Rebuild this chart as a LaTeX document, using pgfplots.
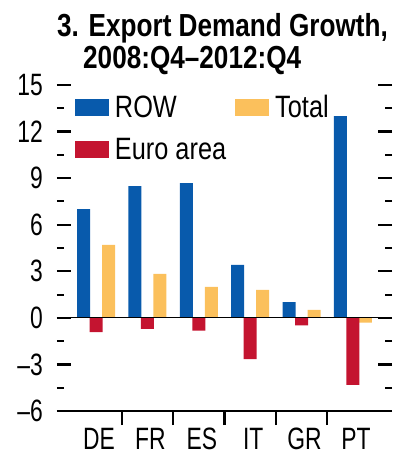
\documentclass[border=0pt]{standalone}
\usepackage{fontspec}
\setmainfont{Liberation Sans}[FakeStretch=0.74]
\newfontfamily\titlefont{Liberation Sans}[FakeStretch=0.82]
\newfontfamily\legfont{Liberation Sans}[FakeStretch=0.82]
\usepackage{pgfplots}
\pgfplotsset{compat=1.18}
\definecolor{rowblue}{RGB}{8,90,172}
\definecolor{eured}{RGB}{196,20,48}
\definecolor{totyel}{RGB}{251,192,92}
\pgfplotstableread{
x row total euro
0 7.0 4.7 -0.92
1 8.49 2.83 -0.71
2 8.68 1.99 -0.82
3 3.41 1.80 -2.66
4 1.01 0.51 -0.49
5 12.99 -0.30 -4.31
}\datatable
\begin{document}
\begin{tikzpicture}
\begin{axis}[
  scale only axis, width=335bp, height=326bp,
  xmin=-0.76, xmax=5.76, ymin=-6, ymax=15,
  clip=false,
  axis line style={draw=none},
  tick align=inside,
  major tick length=14bp, minor tick length=7.5bp,
  every major tick/.append style={line width=2.4bp, black},
  every minor tick/.append style={line width=2bp, black},
  xtick={0.5,1.5,2.5,3.5,4.5}, xticklabels={},
  xtick pos=bottom,
  extra x ticks={0,1,2,3,4,5},
  extra x tick labels={DE,FR,ES,IT,GR,PT},
  extra x tick style={tick style={draw=none}},
  xticklabel style={anchor=base, inner sep=0pt, yshift=-24bp, xshift=3bp},
  ytick={-6,-3,0,3,6,9,12,15},
  yticklabels={–6,–3,0,3,6,9,12,15},
  minor ytick={-4.5,-1.5,1.5,4.5,7.5,10.5,13.5},
  yticklabel style={anchor=east, inner sep=0pt, xshift=-14bp},
  tick label style={font=\fontsize{31}{31}\selectfont},
  ybar, bar width=13bp,
  legend columns=2,
  legend cell align=left,
  legend image code/.code={\fill[#1,draw=none] (0bp,-10bp) rectangle (34bp,7bp); \path (40bp,0bp);},
  legend style={draw=none, fill=none, inner sep=0pt, outer sep=0pt,
    at={(rel axis cs:0.0537,0.969)}, anchor=north west,
    font=\legfont\fontsize{31}{31}\selectfont,
    row sep=20bp,
    nodes={inner sep=0pt, text height=22bp, text depth=0pt},
    /tikz/every even column/.append style={column sep=9bp}},
]
\addplot[fill=rowblue, draw=none, bar shift=-12.5bp] table[x=x,y=row]{\datatable};
\addlegendentry{ROW}
\addplot[fill=totyel, draw=none, bar shift=12.5bp] table[x=x,y=total]{\datatable};
\addlegendentry{Total}
\addplot[fill=eured, draw=none, bar shift=0bp] table[x=x,y=euro]{\datatable};
\addlegendentry{Euro area}
\draw[line width=0.9bp, black] (axis cs:-0.76,0) -- (axis cs:5.76,0);
\draw[line width=2.6bp, black] (rel axis cs:0,0) -- (rel axis cs:1,0);
\coordinate (SW) at (rel axis cs:0,0);
\coordinate (NW) at (rel axis cs:0,1);
\coordinate (NE) at (rel axis cs:1,1);
\end{axis}
\node[anchor=base west, inner sep=0pt, font=\titlefont\bfseries\fontsize{32}{32}\selectfont] at ([yshift=48bp]NW) {3. Export Demand Growth,};
\node[anchor=base west, inner sep=0pt, font=\titlefont\bfseries\fontsize{32}{32}\selectfont] at ([shift={(26bp,16bp)}]NW) {2008:Q4–2012:Q4};
\path ([shift={(-57bp,-49bp)}]SW) rectangle ([shift={(18bp,85bp)}]NE);
\end{tikzpicture}
\end{document}
